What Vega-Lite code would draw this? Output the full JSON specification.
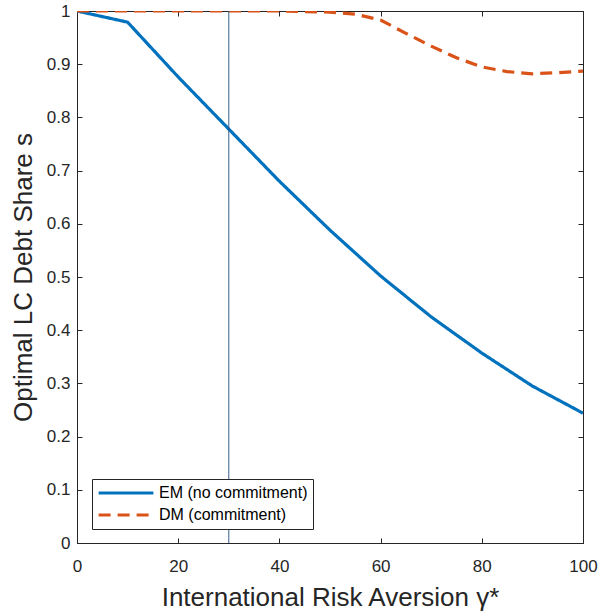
{
  "$schema": "https://vega.github.io/schema/vega-lite/v6.json",
  "width": 506,
  "height": 532,
  "autosize": {"type": "none"},
  "padding": {"left": 77, "top": 11, "right": 15, "bottom": 73},
  "background": "white",
  "config": {
    "font": "Liberation Sans",
    "view": {"stroke": "#262626", "strokeWidth": 1},
    "axis": {
      "grid": false,
      "domainColor": "#262626",
      "tickColor": "#262626",
      "labelColor": "#262626",
      "titleColor": "#262626",
      "labelFontSize": 17,
      "titleFontSize": 26,
      "titleFontWeight": "normal",
      "tickSize": -5,
      "labelPadding": 12,
      "labelFlush": false
    },
    "legend": {
      "orient": "none",
      "legendX": 15,
      "legendY": 468,
      "strokeColor": "#262626",
      "fillColor": "white",
      "padding": 5,
      "labelFontSize": 16,
      "labelColor": "black",
      "symbolType": "stroke",
      "symbolSize": 3000,
      "symbolStrokeWidth": 3,
      "clipHeight": 18,
      "rowPadding": 4,
      "labelOffset": 4,
      "cornerRadius": 0
    }
  },
  "layer": [
    {
      "data": {
        "values": [
          {"g": 0, "s": 1.0, "series": "EM (no commitment)"},
          {"g": 10, "s": 0.979, "series": "EM (no commitment)"},
          {"g": 20, "s": 0.876, "series": "EM (no commitment)"},
          {"g": 30, "s": 0.778, "series": "EM (no commitment)"},
          {"g": 40, "s": 0.68, "series": "EM (no commitment)"},
          {"g": 50, "s": 0.588, "series": "EM (no commitment)"},
          {"g": 60, "s": 0.502, "series": "EM (no commitment)"},
          {"g": 70, "s": 0.425, "series": "EM (no commitment)"},
          {"g": 80, "s": 0.357, "series": "EM (no commitment)"},
          {"g": 90, "s": 0.295, "series": "EM (no commitment)"},
          {"g": 100, "s": 0.244, "series": "EM (no commitment)"},
          {"g": 0, "s": 1.0, "series": "DM (commitment)"},
          {"g": 10, "s": 1.0, "series": "DM (commitment)"},
          {"g": 20, "s": 1.0, "series": "DM (commitment)"},
          {"g": 30, "s": 1.0, "series": "DM (commitment)"},
          {"g": 40, "s": 1.0, "series": "DM (commitment)"},
          {"g": 50, "s": 0.998, "series": "DM (commitment)"},
          {"g": 55, "s": 0.994, "series": "DM (commitment)"},
          {"g": 60, "s": 0.983, "series": "DM (commitment)"},
          {"g": 65, "s": 0.958, "series": "DM (commitment)"},
          {"g": 70, "s": 0.934, "series": "DM (commitment)"},
          {"g": 75, "s": 0.912, "series": "DM (commitment)"},
          {"g": 80, "s": 0.895, "series": "DM (commitment)"},
          {"g": 85, "s": 0.886, "series": "DM (commitment)"},
          {"g": 90, "s": 0.882, "series": "DM (commitment)"},
          {"g": 95, "s": 0.884, "series": "DM (commitment)"},
          {"g": 100, "s": 0.887, "series": "DM (commitment)"}
        ]
      },
      "layer": [
        {
          "mark": {"type": "line", "strokeWidth": 3.2, "clip": true},
          "encoding": {
            "x": {
              "field": "g",
              "type": "quantitative",
              "scale": {"domain": [0, 100], "nice": false},
              "axis": {
                "values": [0, 20, 40, 60, 80, 100],
                "title": "International Risk Aversion γ*",
                "titlePadding": 10,
                "labelPadding": 20
              }
            },
            "y": {
              "field": "s",
              "type": "quantitative",
              "scale": {"domain": [0, 1], "nice": false},
              "axis": {
                "values": [0, 0.1, 0.2, 0.3, 0.4, 0.5, 0.6, 0.7, 0.8, 0.9, 1],
                "format": "~g",
                "title": "Optimal LC Debt Share s",
                "titlePadding": 10
              }
            },
            "color": {
              "field": "series",
              "type": "nominal",
              "scale": {
                "domain": ["EM (no commitment)", "DM (commitment)"],
                "range": ["#0072BD", "#D95319"]
              },
              "legend": {"title": null}
            },
            "strokeDash": {
              "field": "series",
              "type": "nominal",
              "scale": {
                "domain": ["EM (no commitment)", "DM (commitment)"],
                "range": [[1, 0], [12, 7]]
              },
              "legend": {"title": null}
            }
          }
        },
        {
          "mark": {"type": "point", "opacity": 0},
          "encoding": {
            "x": {
              "field": "g",
              "type": "quantitative",
              "axis": {"orient": "top", "values": [0, 20, 40, 60, 80, 100], "labels": false, "title": null}
            },
            "y": {
              "field": "s",
              "type": "quantitative",
              "axis": {"orient": "right", "values": [0, 0.1, 0.2, 0.3, 0.4, 0.5, 0.6, 0.7, 0.8, 0.9, 1], "labels": false, "title": null}
            }
          }
        }
      ],
      "resolve": {"axis": {"x": "independent", "y": "independent"}}
    },
    {
      "data": {"values": [{"g": 30}]},
      "mark": {"type": "rule", "color": "#204f80", "strokeWidth": 0.9},
      "encoding": {
        "x": {"field": "g", "type": "quantitative", "axis": null}
      }
    }
  ]
}
